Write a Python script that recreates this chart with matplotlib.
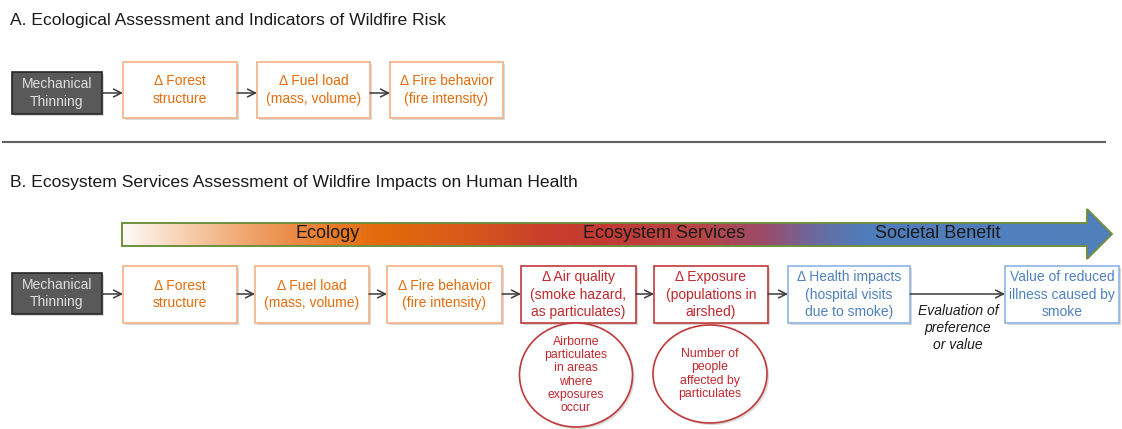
import matplotlib.pyplot as plt
from matplotlib.patches import Rectangle, Ellipse, Polygon
from matplotlib.colors import LinearSegmentedColormap
import numpy as np

plt.rcParams['font.family'] = ['Liberation Sans', 'DejaVu Sans']

# text content
title_a = "A. Ecological Assessment and Indicators of Wildfire Risk"
title_b = "B. Ecosystem Services Assessment of Wildfire Impacts on Human Health"
start_label = "Mechanical\nThinning"
eco_labels = ["Δ Forest\nstructure", "Δ Fuel load\n(mass, volume)", "Δ Fire behavior\n(fire intensity)"]
es_labels = ["Δ Air quality\n(smoke hazard,\nas particulates)", "Δ Exposure\n(populations in\nairshed)"]
health_labels = ["Δ Health impacts\n(hospital visits\ndue to smoke)", "Value of reduced\nillness caused by\nsmoke"]
circle_labels = ["Airborne\nparticulates\nin areas\nwhere\nexposures\noccur", "Number of\npeople\naffected by\nparticulates"]
eval_label = "Evaluation of\npreference\nor value"
band_labels = ["Ecology", "Ecosystem Services", "Societal Benefit"]

# layout (pixels)
W, H = 1122, 429
fig = plt.figure(figsize=(W / 100, H / 100), dpi=100)
ax = fig.add_axes([0, 0, 1, 1])
ax.set_xlim(0, W)
ax.set_ylim(H, 0)
ax.axis('off')

ORANGE_T = '#e46c0a'
ORANGE_E = '#f4b183'
RED_T = '#c0282d'
RED_E = '#c0393b'
BLUE_T = '#4f81bd'
BLUE_E = '#8eb4e3'


def box(x0, x1, y0, y1, label, tc, ec, fc='white', lw=1.2, fs=10):
    ax.add_patch(Rectangle((x0 + 2, y0 + 2), x1 - x0, y1 - y0, fc='#d9d9d9', ec='none', zorder=1))
    ax.add_patch(Rectangle((x0, y0), x1 - x0, y1 - y0, fc=fc, ec=ec, lw=lw, zorder=2))
    ax.text((x0 + x1) / 2, (y0 + y1) / 2, label, ha='center', va='center', color=tc,
            fontsize=fs, linespacing=1.3, zorder=3)


def arrow(x0, x1, y):
    ax.annotate('', xy=(x1, y), xytext=(x0, y),
                arrowprops=dict(arrowstyle='->', color='#3a3a3a', lw=1.1,
                                shrinkA=0, shrinkB=0, mutation_scale=14), zorder=4)


# ---- section A
ax.text(10, 20, title_a, ha='left', va='center', fontsize=12.6, color='#1a1a1a')
box(12, 102, 72, 114, start_label, '#e0e0e0', '#262626', fc='#595959')
a_x = [(123, 237), (257, 370), (390, 503)]
for (x0, x1), lab in zip(a_x, eco_labels):
    box(x0, x1, 62, 118, lab, ORANGE_T, ORANGE_E)
prev = 102
for x0, x1 in a_x:
    arrow(prev, x0, 93)
    prev = x1

ax.plot([3, 1105], [142, 142], color='#606060', lw=1.5)

# ---- section B
ax.text(10, 183, title_b, ha='left', va='center', fontsize=12.6, color='#1a1a1a')

# gradient band arrow
poly = Polygon([(122, 223), (1087, 223), (1087, 209), (1112, 234), (1087, 259),
                (1087, 246), (122, 246)], closed=True, fc='none', ec='#6f8f3f', lw=1.4, zorder=3)
ax.add_patch(poly)
cmap = LinearSegmentedColormap.from_list('band', [
    (0.0, '#fefaf6'), (0.055, '#f8d5b8'), (0.122, '#f0a770'), (0.173, '#ec8a45'),
    (0.257, '#e46c0a'), (0.341, '#d95a1a'), (0.425, '#c8402b'), (0.482, '#c43a33'),
    (0.583, '#b84545'), (0.651, '#9a4c6a'), (0.701, '#6a6aa0'), (0.752, '#4f7dbb'),
    (1.0, '#4f81bd')])
grad = np.linspace(0, 1, 512).reshape(1, -1)
im = ax.imshow(grad, cmap=cmap, extent=[122, 1112, 259, 209], aspect='auto', zorder=2)
im.set_clip_path(poly)
for xc, lab in zip([328, 664, 938], band_labels):
    ax.text(xc, 233, lab, ha='center', va='center', fontsize=13, color='#1a1a1a', zorder=4)

box(12, 102, 273, 314, start_label, '#e0e0e0', '#262626', fc='#595959')
b_eco_x = [(123, 237), (255, 369), (387, 502)]
b_es_x = [(521, 636), (654, 768)]
b_h_x = [(788, 910), (1005, 1119)]
for (x0, x1), lab in zip(b_eco_x, eco_labels):
    box(x0, x1, 266, 323, lab, ORANGE_T, ORANGE_E)
for (x0, x1), lab in zip(b_es_x, es_labels):
    box(x0, x1, 266, 323, lab, RED_T, RED_E)
for (x0, x1), lab in zip(b_h_x, health_labels):
    box(x0, x1, 266, 323, lab, BLUE_T, BLUE_E)

prev = 102
for x0, x1 in b_eco_x + b_es_x + b_h_x:
    arrow(prev, x0, 294)
    prev = x1

ax.text(958, 328, eval_label, ha='center', va='center', fontsize=10, style='italic',
        color='#1a1a1a', linespacing=1.3)

for (xc, yc, w, h), lab in zip([(576, 375, 113, 104), (710, 374, 114, 98)], circle_labels):
    ax.add_patch(Ellipse((xc + 2, yc + 2), w, h, fc='#d9d9d9', ec='none', zorder=1))
    ax.add_patch(Ellipse((xc, yc), w, h, fc='white', ec=RED_E, lw=1.2, zorder=2))
    ax.text(xc, yc, lab, ha='center', va='center', fontsize=8.8, color=RED_T,
            linespacing=1.15, zorder=3)

fig.savefig('out.png', dpi=100)
